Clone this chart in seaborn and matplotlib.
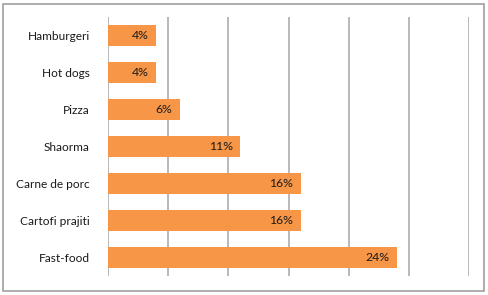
import matplotlib
matplotlib.use("Agg")
import matplotlib.pyplot as plt
import seaborn as sns
import pandas as pd
from matplotlib.patches import Rectangle

categories = ["Hamburgeri", "Hot dogs", "Pizza", "Shaorma", "Carne de porc", "Cartofi prajiti", "Fast-food"]
values = [4, 4, 6, 11, 16, 16, 24]
labels = ["4%", "4%", "6%", "11%", "16%", "16%", "24%"]

df = pd.DataFrame({"cat": categories, "val": values})

sns.set_theme(style="white")
plt.rcParams['font.family'] = ['Lato', 'DejaVu Sans']

fig = plt.figure(figsize=(4.88, 2.95), dpi=100)
ax = fig.add_axes([108/488, 19/295, (469-108)/488, (276-17)/295])

sns.barplot(data=df, x="val", y="cat", orient="h", color="#F79646", saturation=1,
            width=0.57, ax=ax, edgecolor="none")

ax.set_xlim(0, 30)
ax.set_xticks(range(0, 31, 5))
ax.set_xticklabels([])
ax.tick_params(axis="x", length=0)
ax.tick_params(axis="y", length=0, pad=13, labelsize=8.6, labelcolor="#1a1a1a")
ax.xaxis.grid(True, color="#a6a6a6", linewidth=1.1)
ax.set_axisbelow(True)
for s in ax.spines.values():
    s.set_visible(False)
ax.set_xlabel("")
ax.set_ylabel("")

for i, (v, lab) in enumerate(zip(values, labels)):
    ax.text(v - 0.65, i, lab, ha="right", va="center", fontsize=8.8, color="#1a1a1a")

fig.patches.append(Rectangle((3/488, 4/295), 481/488, 287/295, transform=fig.transFigure,
                             fill=False, edgecolor="#a0a0a0", linewidth=1.2))

fig.savefig("out.png", dpi=100)
